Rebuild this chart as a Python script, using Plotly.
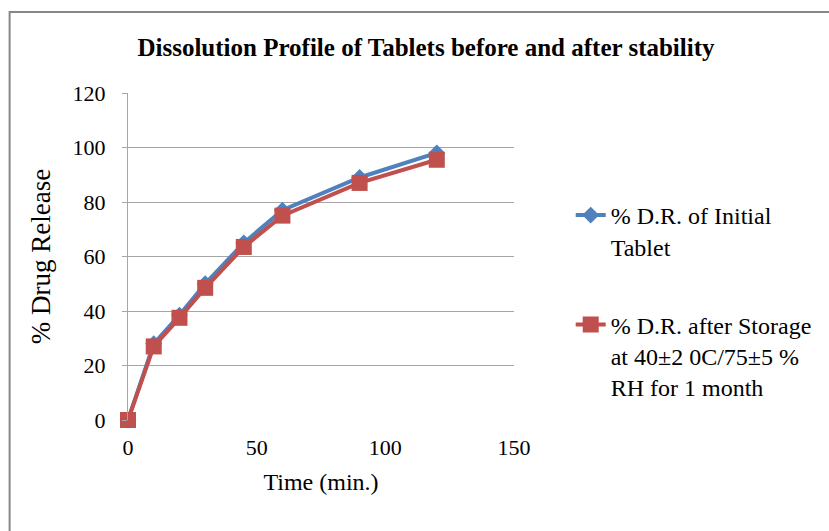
import plotly.graph_objects as go

# Dissolution time points (min.) and % drug release
time_min = [0, 10, 20, 30, 45, 60, 90, 120]
dr_initial = [0, 28, 38.5, 50, 65, 77, 89, 98]
dr_after_storage = [0, 27, 37.5, 48.5, 63.5, 75, 87, 95.5]

x_ticks = [0, 50, 100, 150]
y_ticks = [0, 20, 40, 60, 80, 100, 120]

name_initial = "% D.R. of Initial<br>Tablet"
name_storage = "% D.R. after Storage<br>at 40±2 0C/75±5 %<br>RH for 1 month"

FONT = "Liberation Serif"
W, H = 829, 531
L, R, T, B = 128, 313, 93, 111
pw, ph = W - L - R, H - T - B


def px_x(p):
    return (p - L) / pw


def px_y(p):
    return (H - B - p) / ph


fig = go.Figure()
fig.add_trace(go.Scatter(
    x=time_min, y=dr_initial, name=name_initial, legendgroup="a",
    mode="lines+markers", cliponaxis=False,
    line=dict(color="#4F81BD", width=4),
    marker=dict(symbol="diamond", size=13, color="#4F81BD"),
))
fig.add_trace(go.Scatter(
    x=time_min, y=dr_after_storage, name=name_storage, legendgroup="b",
    mode="lines+markers", cliponaxis=False,
    line=dict(color="#C0504D", width=4),
    marker=dict(symbol="square", size=16, color="#C0504D"),
))

# Outer chart frame
fig.add_shape(type="rect", xref="paper", yref="paper",
              x0=px_x(9), x1=px_x(W + 10), y0=px_y(12), y1=px_y(H + 10),
              line=dict(color="#868686", width=2), fillcolor="rgba(0,0,0,0)",
              layer="below")

fig.update_layout(
    width=W, height=H,
    margin=dict(l=L, r=R, t=T, b=B),
    paper_bgcolor="white", plot_bgcolor="white",
    font=dict(family=FONT, color="black"),
    title=dict(text="<b>Dissolution Profile of Tablets before and after stability</b>",
               xref="container", x=426 / W, xanchor="center",
               yref="container", y=1 - 47 / H, yanchor="middle",
               font=dict(family=FONT, size=25, color="black")),
    xaxis=dict(range=[0, 150], tickvals=x_ticks, showgrid=False, zeroline=False,
               showline=False, tickfont=dict(size=22), ticklabelstandoff=12,
               title=dict(text="Time (min.)", font=dict(size=24), standoff=14)),
    yaxis=dict(range=[0, 120], tickvals=y_ticks, showgrid=True, gridcolor="#A6A6A6",
               gridwidth=1, zeroline=False, showline=True, linecolor="#A6A6A6",
               linewidth=1, ticks="outside", ticklen=5, tickcolor="#A6A6A6",
               tickfont=dict(size=22), ticklabelstandoff=12,
               title=dict(text="% Drug Release", font=dict(size=27), standoff=14)),
    legend=dict(x=px_x(573), y=px_y(193), xanchor="left", yanchor="top",
                font=dict(family=FONT, size=24), valign="top",
                tracegroupgap=44, bgcolor="rgba(0,0,0,0)"),
    showlegend=True,
)

fig.write_html("out.html")
